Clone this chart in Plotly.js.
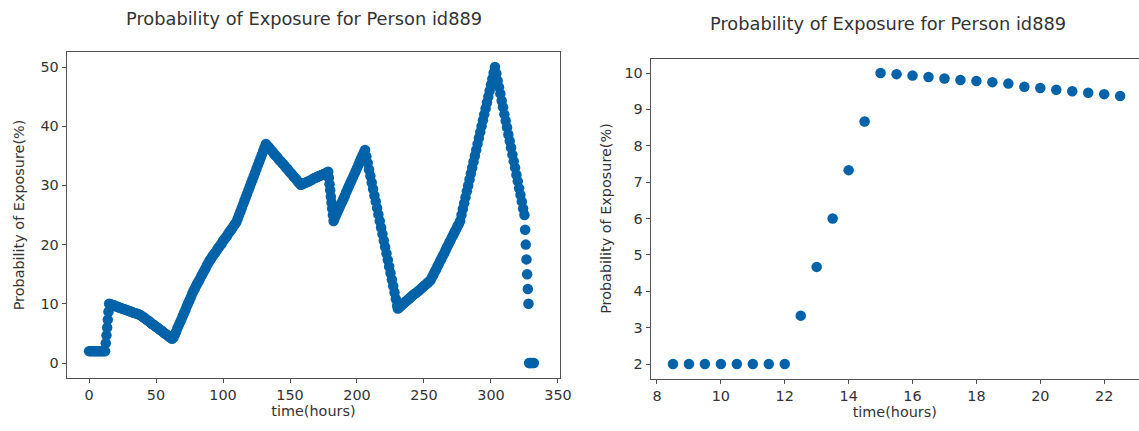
<!DOCTYPE html>
<html>
<head>
<meta charset="utf-8">
<script src="https://cdn.plot.ly/plotly-3.0.1.min.js"></script>
<style>
  html, body { margin: 0; padding: 0; background: #ffffff; }
  #chart { width: 1139px; height: 431px; }
</style>
</head>
<body>
<div id="chart"></div>
<script>
// ---------- Data ----------
const chartTitle = "Probability of Exposure for Person id889";
const xLabel = "time(hours)";
const yLabel = "Probability of Exposure(%)";

// Left panel: whole period, hours since start
const leftHours = [
  0,1,2,3,4,5,6,7,8,9,10,11,12,
  12.5,13,13.5,14,14.5,15,
  16,17,18,19,20,21,22,
  23,24,25,26,27,28,29,30,31,32,33,34,35,36,37,38,
  39,40,41,42,43,44,45,46,47,48,49,50,51,52,53,54,55,56,57,58,59,60,61,62,
  63,64,65,66,67,68,69,70,71,72,73,74,75,76,77,78,
  79,80,81,82,83,84,85,86,87,88,89,90,
  91,92,93,94,95,96,97,98,99,100,101,102,103,104,105,106,107,108,109,110,
  111,112,113,114,115,116,117,118,119,120,121,122,123,124,125,126,127,128,129,130,131,132,
  133,134,135,136,137,138,139,140,141,142,143,144,145,146,147,148,149,150,151,152,153,154,155,156,157,158,
  159,160,161,162,163,164,165,166,167,168,169,170,171,172,173,174,175,176,177,178,
  178.5,179,179.5,180,180.5,181,181.5,182,182.5,
  183,184,185,186,187,188,189,190,191,192,193,194,195,196,197,198,199,200,201,202,203,204,205,206,
  207,208,209,210,211,212,213,214,215,216,217,218,219,220,221,222,223,224,225,226,227,228,229,230,
  230.5,
  231,232,233,234,235,236,237,238,239,240,241,242,243,244,245,246,247,248,249,250,251,252,253,254,255,
  256,257,258,259,260,261,262,263,264,265,266,267,268,269,270,271,272,273,274,275,276,277,
  278,279,280,281,282,283,284,285,286,287,288,289,290,291,292,293,294,295,296,297,298,299,300,301,302,303,
  304,305,306,307,308,309,310,311,312,313,314,315,316,317,318,319,320,321,322,323,324,325,
  325.5,326,326.5,327,327.5,328,
  328.5,329,330,331,332
];
const leftProb = [
  2,2,2,2,2,2,2,2,2,2,2,2,2,
  3.33,4.67,6.0,7.33,8.67,10.0,
  9.93,9.85,9.78,9.71,9.59,9.5,9.42,
  9.34,9.26,9.18,9.1,9.02,8.94,8.86,8.78,8.7,8.62,8.54,8.46,8.38,8.3,8.22,8.14,
  8.0,7.8,7.7,7.5,7.3,7.2,7.0,6.8,6.6,6.5,6.3,6.1,6.0,5.8,5.6,5.5,5.3,5.1,4.9,4.8,4.6,4.4,4.3,4.1,
  4.3,4.8,5.3,5.9,6.4,6.9,7.4,8.0,8.5,9.0,9.6,10.1,10.6,11.1,11.7,12.2,
  12.6,13.1,13.5,13.9,14.3,14.8,15.2,15.6,16.0,16.5,16.9,17.3,
  17.6,18.0,18.3,18.6,18.9,19.3,19.6,19.9,20.2,20.6,20.9,21.2,21.5,21.9,22.2,22.5,22.8,23.2,23.5,23.8,
  24.4,25.0,25.6,26.2,26.8,27.4,28.0,28.6,29.2,29.8,30.4,31.0,31.6,32.2,32.8,33.4,34.0,34.6,35.2,35.8,36.4,37.0,
  36.7,36.5,36.2,35.9,35.7,35.4,35.1,34.9,34.6,34.3,34.1,33.8,33.6,33.3,33.0,32.8,32.5,32.2,32.0,31.7,31.4,31.2,30.9,30.6,30.4,30.1,
  30.2,30.3,30.4,30.5,30.6,30.7,30.8,30.9,31.1,31.2,31.3,31.4,31.5,31.6,31.7,31.8,31.9,32.0,32.1,32.2,
  32.3,31.3,30.2,29.2,28.1,27.1,26.1,25.0,24.0,
  24.3,24.8,25.3,25.8,26.3,26.8,27.3,27.8,28.3,28.9,29.4,29.9,30.4,30.9,31.4,31.9,32.4,32.9,33.4,34.0,34.5,35.0,35.5,36.0,
  34.9,33.8,32.7,31.6,30.5,29.4,28.3,27.3,26.2,25.1,24.0,22.9,21.8,20.7,19.6,18.5,17.4,16.3,15.2,14.1,13.0,11.9,10.8,9.7,
  9.2,
  9.3,9.5,9.7,9.9,10.1,10.3,10.5,10.7,10.9,11.1,11.3,11.5,11.7,11.8,12.0,12.2,12.4,12.6,12.8,13.0,13.2,13.4,13.6,13.8,14.0,
  14.5,14.9,15.4,15.8,16.3,16.7,17.2,17.6,18.1,18.5,19.0,19.5,19.9,20.4,20.8,21.3,21.7,22.2,22.6,23.1,23.5,24.0,
  25,26,27,28,29,30,31,32,33,34,35,36,37,38,39,40,41,42,43,44,45,46,47,48,49,50,
  48.9,47.7,46.6,45.5,44.3,43.2,42.0,40.9,39.8,38.6,37.5,36.4,35.2,34.1,33.0,31.8,30.7,29.5,28.4,27.3,26.1,25.0,
  22.5,20,17.5,15,12.5,10,
  0,0,0,0,0
];

// Right panel: first day, half-hourly
const rightHours = [8.5,9,9.5,10,10.5,11,11.5,12,12.5,13,13.5,14,14.5,15,15.5,16,16.5,17,17.5,18,18.5,19,19.5,20,20.5,21,21.5,22,22.5];
const rightProb  = [2,2,2,2,2,2,2,2,3.33,4.67,6.0,7.33,8.67,10.0,9.97,9.93,9.89,9.85,9.81,9.78,9.75,9.71,9.62,9.59,9.54,9.5,9.46,9.42,9.37];

// Tick values
const leftXTicks  = [0,50,100,150,200,250,300,350];
const leftYTicks  = [0,10,20,30,40,50];
const rightXTicks = [8,10,12,14,16,18,20,22];
const rightYTicks = [2,3,4,5,6,7,8,9,10];

// ---------- Styling ----------
const W = 1139, H = 431;
const FONT = "DejaVu Sans, Liberation Sans, sans-serif";
const dotColor = "#0062a8";
const axisColor = "#505050";
const textColor = "#333333";
const tickSize = 14.4;
const labelSize = 14.4;
const titleSize = 17.8;

function axisStyle(extra) {
  return Object.assign({
    showgrid: false,
    zeroline: false,
    showline: true,
    linecolor: axisColor,
    linewidth: 1,
    ticks: "outside",
    ticklen: 4,
    tickwidth: 1,
    tickcolor: axisColor,
    tickmode: "array",
    tickfont: { family: FONT, size: tickSize, color: textColor },
    fixedrange: true
  }, extra);
}

const traces = [
  {
    type: "scatter", mode: "markers",
    x: leftHours, y: leftProb,
    xaxis: "x", yaxis: "y",
    marker: { color: dotColor, size: 10.5, line: { width: 0 } },
    hoverinfo: "x+y"
  },
  {
    type: "scatter", mode: "markers",
    x: rightHours, y: rightProb,
    xaxis: "x2", yaxis: "y2",
    marker: { color: dotColor, size: 10.5, line: { width: 0 } },
    hoverinfo: "x+y"
  }
];

const layout = {
  width: W, height: H,
  margin: { l: 0, r: 0, t: 0, b: 0, pad: 0 },
  paper_bgcolor: "#ffffff",
  plot_bgcolor: "#ffffff",
  showlegend: false,
  font: { family: FONT, color: textColor },
  xaxis: axisStyle({
    domain: [66.6 / W, 560.3 / W],
    range: [-16.75, 351.75],
    tickvals: leftXTicks,
    mirror: true,
    anchor: "y",
    title: { text: xLabel, font: { family: FONT, size: labelSize, color: textColor }, standoff: 2 }
  }),
  yaxis: axisStyle({
    domain: [1 - 377.8 / H, 1 - 52.2 / H],
    range: [-2.5, 52.5],
    tickvals: leftYTicks,
    mirror: true,
    anchor: "x",
    title: { text: yLabel, font: { family: FONT, size: labelSize, color: textColor }, standoff: 12 }
  }),
  xaxis2: axisStyle({
    domain: [650.6 / W, 1],
    range: [7.8, 23.09],
    tickvals: rightXTicks,
    mirror: true,
    anchor: "y2",
    title: { text: xLabel, font: { family: FONT, size: labelSize, color: textColor }, standoff: 2 }
  }),
  yaxis2: axisStyle({
    domain: [1 - 378.55 / H, 1 - 58.5 / H],
    range: [1.6, 10.4],
    tickvals: rightYTicks,
    mirror: false,
    anchor: "x2",
    title: { text: yLabel, font: { family: FONT, size: labelSize, color: textColor }, standoff: 9 }
  }),
  annotations: [
    {
      text: chartTitle, xref: "paper", yref: "paper",
      x: 304 / W, y: 1 - 18 / H, xanchor: "center", yanchor: "middle",
      showarrow: false, font: { family: FONT, size: titleSize, color: textColor }
    },
    {
      text: chartTitle, xref: "paper", yref: "paper",
      x: 888 / W, y: 1 - 23 / H, xanchor: "center", yanchor: "middle",
      showarrow: false, font: { family: FONT, size: titleSize, color: textColor }
    }
  ]
};

Plotly.newPlot("chart", traces, layout, { staticPlot: true, displayModeBar: false });
</script>
</body>
</html>
